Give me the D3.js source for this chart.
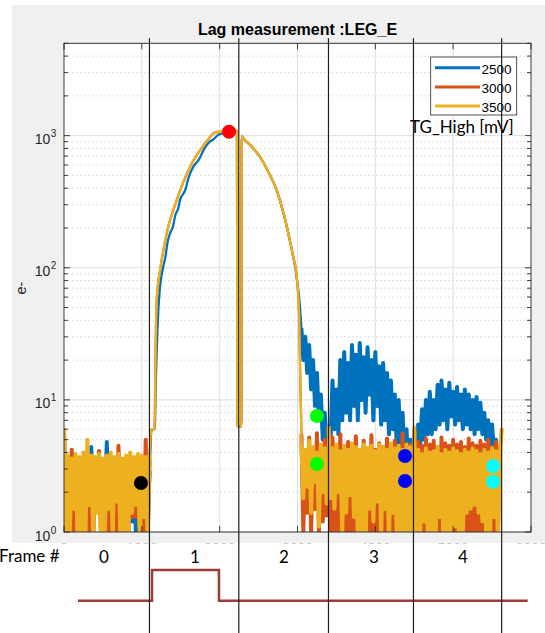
<!DOCTYPE html>
<html>
<head>
<meta charset="utf-8">
<script src="https://cdn.jsdelivr.net/npm/d3@7"></script>
<style>
  body { margin: 0; background: #fff; }
  svg { display: block; }
</style>
</head>
<body>
<script>
// ---- data (x in sample units, y in e-) ----
const seriesNames = ["2500", "3000", "3500"];
const noiseStep = 25;

// frame 0 noise, x starts at 0
const f0_2500 = [5.8, 1.2, 3.0, 1.5, 2.8, 1.3, 3.1, 1.4, 2.9, 1.5, 3.2, 1.2, 3.0, 1.4, 4.4, 1.3, 2.9, 1.5, 3.1, 1.2, 3.0, 1.4, 4.8, 1.3, 2.8, 1.5, 3.1, 1.2, 2.9, 1.4, 3.0, 1.3, 3.2, 1.5, 2.9, 1.2, 3.0, 0.9, 3.1, 1.4, 2.8, 1.3, 3.0, 1.2, 2.9];
const f0_3000 = [6.0, 1.0, 3.4, 0.8, 4.2, 0.9, 3.5, 1.0, 3.3, 0.8, 3.6, 1.0, 3.4, 0.9, 3.5, 0.8, 3.3, 1.5, 4.1, 0.9, 3.4, 0.8, 3.6, 1.0, 3.5, 0.9, 3.3, 0.8, 4.5, 1.0, 3.4, 0.9, 3.6, 0.8, 3.5, 1.3, 3.3, 1.3, 3.4, 0.8, 3.6, 1.0, 5.0, 0.9, 3.5];
const f0_3500 = [6.1, 0.9, 3.8, 1.0, 3.6, 1.5, 3.9, 0.8, 3.7, 1.0, 4.0, 0.9, 5.0, 1.6, 3.8, 0.9, 3.7, 1.4, 3.9, 0.8, 3.6, 1.0, 3.8, 1.5, 4.0, 0.9, 3.7, 1.7, 3.9, 0.8, 3.6, 1.0, 3.8, 0.9, 4.0, 1.4, 3.7, 1.6, 3.9, 0.8, 3.8, 1.3, 3.7, 0.9, 3.9];

// frame 1 pulse and its decay
const peakX = [1125, 1165, 1172, 1191, 1242, 1320, 1448, 1619, 1812, 1940, 2030, 2120, 2222, 2228, 2278, 2284, 2304, 2400, 2518, 2620, 2733, 2820, 2882, 2940, 2990, 3020, 3035, 3045];
const peak_3000 = [6.0, 6.0, 14, 57, 102, 182, 325, 580, 871, 1055, 1075, 1080, 1090, 6.3, 6.3, 985, 951, 840, 690, 540, 386, 260, 182, 125, 85, 45, 15, 8];
const peak_3500 = [6.0, 6.0, 14, 57, 102, 182, 325, 580, 871, 1055, 1075, 1080, 1090, 6.3, 6.3, 985, 951, 840, 690, 540, 386, 260, 182, 125, 85, 45, 15, 8];
const peakX_2500 = [1125, 1165, 1180, 1220, 1275, 1300, 1330, 1362, 1400, 1430, 1470, 1490, 1560, 1600, 1660, 1740, 1800, 1850, 1930, 1990, 2060, 2120, 2222, 2228, 2278, 2284, 2304, 2400, 2518, 2620, 2733, 2820, 2882, 2940, 2990, 3032];
const peak_2500 = [6.0, 6.0, 14, 57, 102, 118, 155, 182, 205, 250, 285, 325, 390, 480, 580, 670, 790, 871, 950, 1020, 1045, 1065, 1085, 6.3, 6.3, 985, 951, 840, 690, 540, 386, 260, 182, 125, 85, 50];

// frame 2 tail, x starts at 3050
const f2_2500 = [35, 20, 30, 16, 26, 12, 20, 9, 16, 7, 11, 5, 8, 4.5];
const f2_3000 = [5.5, 1.0, 4.0, 1.4, 5.2, 1.0, 4.2, 1.5, 5.6, 1.0, 4.4, 1.2, 5.0, 1.3];
const f2_3500 = [4.6, 1.8, 4.2, 2.2, 4.9, 1.4, 4.4, 2.4, 4.0, 1.1, 4.6, 2.0, 4.3, 1.6];

// frame 3, x starts at 3400
const f3_2500 = [6.0, 5, 14, 6, 12, 5.5, 20, 7, 23, 8, 19, 7, 26, 9, 22, 7, 27, 10, 21, 8, 25, 11, 20, 7, 23, 9, 18, 6.5, 19, 7, 16, 5.5, 14, 6, 11, 4.5, 10, 4, 8, 3.8, 6, 3, 5, 2.5];
const f3_3000 = [6.0, 1.0, 5.2, 0.9, 4.3, 1.0, 5.5, 0.8, 4.2, 1.0, 4.8, 0.9, 4.4, 1.0, 5.3, 0.8, 4.1, 1.0, 4.9, 0.9, 4.3, 1.0, 5.4, 0.8, 4.2, 1.0, 4.7, 0.9, 4.4, 1.0, 5.1, 0.8, 4.3, 1.0, 4.9, 0.9, 4.2, 1.0, 5.6, 0.8, 4.4, 1.0, 4.6, 0.9];
const f3_3500 = [6.3, 1.8, 4.3, 1.5, 4.6, 2.0, 4.1, 1.0, 4.5, 1.4, 4.2, 1.9, 4.7, 1.3, 4.4, 0.9, 4.2, 1.0, 4.6, 0.8, 4.3, 1.5, 4.5, 1.2, 4.1, 1.7, 4.6, 0.9, 4.4, 1.5, 4.2, 0.8, 4.7, 1.4, 4.3, 0.9, 4.5, 0.8, 4.2, 1.0, 4.6, 0.9, 4.4, 0.8];

// frame 4, x starts at 4500
const f4_2500 = [5.5, 4, 6.5, 4.5, 8.5, 5, 10, 5.5, 11.5, 5.5, 10, 6, 13, 6.5, 14, 7, 12, 6, 13.5, 7.5, 11.5, 6.5, 12.5, 7, 11, 6, 12, 6.5, 11, 6, 10, 5.5, 10.5, 6, 9.5, 5.5, 8, 5, 7, 4.5, 6.5, 4, 5, 3.5];
const f4_3000 = [6.0, 0.9, 4.8, 1.0, 4.5, 0.8, 5.1, 1.0, 4.6, 0.9, 4.9, 1.0, 4.4, 0.8, 5.2, 1.0, 4.7, 0.9, 4.5, 1.0, 5.0, 0.8, 4.6, 1.0, 4.8, 0.9, 4.4, 1.0, 5.1, 0.8, 4.7, 1.0, 4.5, 0.9, 4.9, 1.0, 4.6, 0.8, 5.0, 1.0, 4.4, 0.9, 4.8, 1.0, 4.5];
const f4_3500 = [6.3, 1.0, 4.2, 0.9, 3.9, 1.2, 4.3, 0.8, 4.0, 1.0, 4.1, 0.9, 4.4, 1.3, 3.9, 0.8, 4.2, 1.0, 4.0, 0.9, 4.3, 1.1, 4.1, 0.8, 3.9, 1.0, 4.2, 1.4, 4.0, 1.5, 4.3, 1.6, 4.1, 1.4, 3.9, 1.2, 4.2, 0.9, 4.0, 1.0, 4.3, 1.3, 4.1, 0.8, 4.0, 6.1];

// markers
const markX = [989, 2120, 3250, 3250, 4381, 4381, 5512, 5512];
const markY = [2.35, 1071, 7.54, 3.27, 3.76, 2.43, 3.16, 2.40];

// frame annotation
const frameBounds = [1098, 2246, 3398, 4490, 5623];
const frameLabels = ["0", "1", "2", "3", "4"];
const frameLabelX = [514, 1683, 2827, 3983, 5126];
const pulseX = [180, 1131, 1131, 1991, 1991, 5957];
const pulseLevel = [0, 0, 1, 1, 0, 0];

// ---- drawing ----
const W = 545, H = 633;
const colors = { "2500": "#0072BD", "3000": "#D95319", "3500": "#EDB120" };
const markColors = ["#000000", "#ff0000", "#00ff00", "#00ff00", "#0000ff", "#0000ff", "#00ffff", "#00ffff"];
const axisColor = "#262626";

const svg = d3.select("body").append("svg").attr("width", W).attr("height", H);

const x = d3.scaleLinear().domain([0, 6000]).range([64, 531]);
const y = d3.scaleLog().domain([1, 5000]).range([532, 43.3]);
const yp = d3.scaleLinear().domain([0, 1]).range([600.7, 570]);

svg.append("rect").attr("x", 12).attr("y", 5).attr("width", W - 12).attr("height", 538).attr("fill", "#f0f0f0");
svg.append("rect").attr("x", 64).attr("y", 43.3).attr("width", 467).attr("height", 488.7).attr("fill", "#fff");

// grid
const yTicks = y.ticks();
const yMajor = yTicks.filter(d => Math.abs(Math.log10(d) - Math.round(Math.log10(d))) < 1e-9);
const yMinor = yTicks.filter(d => !yMajor.includes(d));
const xTicks = x.ticks(6);

const grid = svg.append("g");
grid.selectAll(".ymin").data(yMinor).enter().append("line")
  .attr("x1", 64).attr("x2", 531).attr("y1", d => y(d)).attr("y2", d => y(d))
  .attr("stroke", "#cdcdcd").attr("stroke-width", 0.8).attr("stroke-dasharray", "1.5,2.5");
grid.selectAll(".ymaj").data(yMajor).enter().append("line")
  .attr("x1", 64).attr("x2", 531).attr("y1", d => y(d)).attr("y2", d => y(d))
  .attr("stroke", "#dedede").attr("stroke-width", 1);
grid.selectAll(".xmaj").data(xTicks.slice(1, -1)).enter().append("line")
  .attr("y1", 43.3).attr("y2", 532).attr("x1", d => x(d)).attr("x2", d => x(d))
  .attr("stroke", "#dedede").attr("stroke-width", 1);

// series
svg.append("clipPath").attr("id", "plot").append("rect")
  .attr("x", 64).attr("y", 43.3).attr("width", 467).attr("height", 488.7);

function noise(x0, vals) { return vals.map((v, i) => [x0 + i * noiseStep, v]); }
function pts(xs, vals) { return xs.map((xv, i) => [xv, vals[i]]); }

const seriesParts = {
  "2500": [noise(0, f0_2500), pts(peakX_2500, peak_2500), noise(3050, f2_2500), noise(3400, f3_2500), noise(4500, f4_2500)],
  "3000": [noise(0, f0_3000), pts(peakX, peak_3000), noise(3050, f2_3000), noise(3400, f3_3000), noise(4500, f4_3000)],
  "3500": [noise(0, f0_3500), pts(peakX, peak_3500), noise(3050, f2_3500), noise(3400, f3_3500), noise(4500, f4_3500)]
};

const smoothLine = d3.line().x(d => x(d[0])).y(d => y(Math.max(d[1], 0.5))).curve(d3.curveMonotoneX);
const rawLine = d3.line().x(d => x(d[0])).y(d => y(Math.max(d[1], 0.5)));

const plot = svg.append("g").attr("clip-path", "url(#plot)");
seriesNames.forEach(s => {
  const parts = seriesParts[s];
  // whole trace, thin
  plot.append("path").datum([].concat(...parts))
    .attr("d", smoothLine).attr("fill", "none")
    .attr("stroke", colors[s]).attr("stroke-width", 2.3).attr("stroke-linejoin", "round");
  // dense noisy stretches read as solid bands
  parts.filter((p, i) => i !== 1).forEach(p => {
    plot.append("path").datum(p)
      .attr("d", rawLine).attr("fill", "none")
      .attr("stroke", colors[s]).attr("stroke-width", 4).attr("stroke-linejoin", "round");
  });
});

plot.selectAll(".mark").data(markX).enter().append("circle")
  .attr("cx", d => x(d)).attr("cy", (d, i) => y(markY[i])).attr("r", 7)
  .attr("fill", (d, i) => markColors[i]);

// axes box and ticks
svg.append("rect").attr("x", 64).attr("y", 43.3).attr("width", 467).attr("height", 488.7)
  .attr("fill", "none").attr("stroke", axisColor).attr("stroke-width", 0.9);
const ticks = svg.append("g").attr("stroke", axisColor).attr("stroke-width", 0.9);
[64, 531].forEach((ax, k) => {
  const dir = k === 0 ? 1 : -1;
  yMajor.forEach(d => ticks.append("line").attr("x1", ax).attr("x2", ax + dir * 6).attr("y1", y(d)).attr("y2", y(d)));
  yMinor.forEach(d => ticks.append("line").attr("x1", ax).attr("x2", ax + dir * 4).attr("y1", y(d)).attr("y2", y(d)));
});
[532, 43.3].forEach((ay, k) => {
  const dir = k === 0 ? -1 : 1;
  xTicks.forEach(d => ticks.append("line").attr("x1", x(d)).attr("x2", x(d)).attr("y1", ay).attr("y2", ay + dir * 6));
});

// y tick labels
const yl = svg.append("g").attr("font-family", "Liberation Sans, Arial, sans-serif").attr("fill", axisColor);
yMajor.forEach(d => {
  yl.append("text").attr("x", 50.3).attr("y", y(d) + 8.5).attr("text-anchor", "end").attr("font-size", 14).text("10");
  yl.append("text").attr("x", 50.8).attr("y", y(d) + 1.5).attr("font-size", 10).text(String(Math.round(Math.log10(d))));
});

// x tick labels (mostly hidden under the lower panel)
xTicks.forEach(d => {
  svg.append("text").attr("x", x(d)).attr("y", 553).attr("text-anchor", "middle")
    .attr("font-family", "Liberation Sans, Arial, sans-serif").attr("font-size", 14).attr("fill", "#8a8a8a")
    .text(d);
});

// y label and title
svg.append("text").attr("transform", "translate(26,288) rotate(-90)").attr("text-anchor", "middle")
  .attr("font-family", "Liberation Sans, Arial, sans-serif").attr("font-size", 14.5).attr("fill", axisColor).text("e-");
svg.append("text").attr("x", 297.5).attr("y", 35).attr("text-anchor", "middle")
  .attr("font-family", "Liberation Sans, Arial, sans-serif").attr("font-size", 16).attr("font-weight", "bold")
  .attr("fill", "#000").text("Lag measurement :LEG_E");

// legend
const lg = svg.append("g");
lg.append("rect").attr("x", 430.7).attr("y", 57).attr("width", 86).attr("height", 58)
  .attr("fill", "#fff").attr("stroke", axisColor).attr("stroke-width", 0.8);
seriesNames.forEach((s, i) => {
  const ly = 67.7 + i * 19.2;
  lg.append("line").attr("x1", 435).attr("x2", 480).attr("y1", ly).attr("y2", ly)
    .attr("stroke", colors[s]).attr("stroke-width", 3);
  lg.append("text").attr("x", 481.5).attr("y", ly + 6).attr("font-family", "Liberation Sans, Arial, sans-serif")
    .attr("font-size", 13.5).attr("fill", "#000").text(s);
});
svg.append("text").attr("x", 410).attr("y", 132.7).attr("font-family", "Lato, sans-serif")
  .attr("font-size", 17).attr("fill", "#000").text("TG_High [mV]");

// lower panel
svg.append("rect").attr("x", 0).attr("y", 543.5).attr("width", W).attr("height", H - 543.5).attr("fill", "#fff");
svg.append("text").attr("x", -1).attr("y", 562).attr("font-family", "Lato, sans-serif")
  .attr("font-size", 17).attr("fill", "#000").text("Frame #");
svg.selectAll(".flab").data(frameLabels).enter().append("text")
  .attr("x", (d, i) => x(frameLabelX[i])).attr("y", 563).attr("text-anchor", "middle")
  .attr("font-family", "Lato, sans-serif").attr("font-size", 17).attr("fill", "#000").text(d => d);

const pulse = d3.line().x(d => x(d[0])).y(d => yp(d[1]));
svg.append("path").datum(pulseX.map((v, i) => [v, pulseLevel[i]]))
  .attr("d", pulse).attr("fill", "none").attr("stroke", "#9e3b34").attr("stroke-width", 2.5)
  .attr("stroke-linejoin", "miter");

svg.selectAll(".fb").data(frameBounds).enter().append("line")
  .attr("x1", d => x(d)).attr("x2", d => x(d)).attr("y1", 38.3).attr("y2", H)
  .attr("stroke", "#1e1e1e").attr("stroke-width", 1.2);
</script>
</body>
</html>
